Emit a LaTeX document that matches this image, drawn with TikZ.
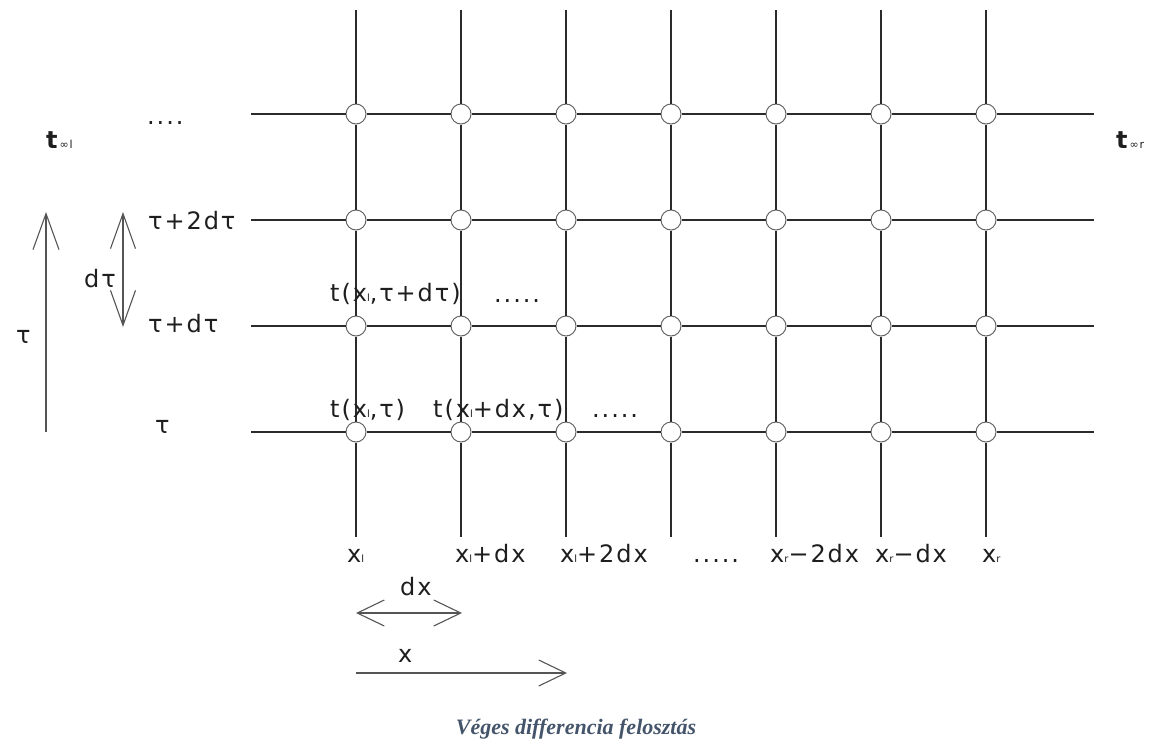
\documentclass[tikz,border=0pt]{standalone}
\usepackage{fontspec}
\setmainfont{DejaVu Sans}
\newfontfamily\diagfont[LetterSpace=8]{DejaVu Sans}
\newfontfamily\capfont{Liberation Serif}
\usetikzlibrary{arrows.meta}
\definecolor{linec}{HTML}{2B2B2B}
\definecolor{textc}{HTML}{1E1E1E}
\definecolor{arrc}{HTML}{555555}
\definecolor{knotc}{HTML}{666666}
\definecolor{capc}{HTML}{44546A}
\newcommand\sbs[1]{{\fontsize{10}{10}\selectfont #1}}
\newcommand\tsbs[1]{{\fontsize{11}{11}\selectfont #1}}
\begin{document}
\begin{tikzpicture}[x=1pt,y=-1pt,
  gridline/.style={draw=linec,line width=1.4pt},
  knot/.style={circle,draw=knotc,fill=white,line width=1pt,minimum size=20pt,inner sep=0pt},
  lbl/.style={text=textc,font=\diagfont\fontsize{24}{26}\selectfont,inner sep=0pt,anchor=base west},
  openarrow/.style={draw=arrc,line width=1.1pt},
]
\useasboundingbox (0,0) rectangle (1151,742);
% grid knots
\foreach \i in {0,...,6}{
  \foreach \j in {0,...,3}{
    \node[knot] (k\i\j) at ({356+105*\i},{114+106*\j}) {};
  }
  \coordinate (top\i) at ({356+105*\i},10);
  \coordinate (bot\i) at ({356+105*\i},537);
}
\foreach \j in {0,...,3}{
  \coordinate (lft\j) at (251,{114+106*\j});
  \coordinate (rgt\j) at (1094,{114+106*\j});
}
% grid lines
\foreach \i in {0,...,6}{
  \draw[gridline] (top\i) -- (k\i0) -- (k\i1) -- (k\i2) -- (k\i3) -- (bot\i);
}
\foreach \j in {0,...,3}{
  \draw[gridline] (lft\j) -- (k0\j) -- (k1\j) -- (k2\j) -- (k3\j) -- (k4\j) -- (k5\j) -- (k6\j) -- (rgt\j);
}
% arrows
\coordinate (tauS) at (46,432);
\coordinate (tauE) at (46,212);
\draw[openarrow,-{Straight Barb[length=36pt,width=26pt]}] (tauS) -- (tauE);
\coordinate (dtA) at (123,212);
\coordinate (dtB) at (123,327);
\draw[openarrow,{Straight Barb[length=35pt,width=25pt]}-{Straight Barb[length=35pt,width=25pt]}] (dtA) -- (dtB);
\coordinate (dxA) at (356,613);
\coordinate (dxB) at (462,613);
\draw[openarrow,{Straight Barb[length=27pt,width=26pt]}-{Straight Barb[length=27pt,width=26pt]}] (dxA) -- (dxB);
\coordinate (xA) at (356,673);
\coordinate (xB) at (567,673);
\draw[openarrow,-{Straight Barb[length=27pt,width=26pt]}] (xA) -- (xB);
% left labels
\node[lbl] (tinfl) at (46,148) {\textbf{t}\tsbs{∞l}};
\node[lbl] (dotsTop) at (147,124) {....};
\node[lbl] (r2) at (148,229) {τ+2dτ};
\node[lbl] (r1) at (148,332) {τ+dτ};
\node[lbl] (r0) at (155,433) {τ};
\node[lbl] (dtau) at (84,287) {dτ};
\node[lbl] (tau) at (16,343) {τ};
\node[lbl] (tinfr) at (1116,148) {\textbf{t}\tsbs{∞r}};
% inner labels
\node[lbl] (f1) at (330,301) {t(x\sbs{l},τ+dτ)};
\node[lbl] (f1d) at (494,302) {.....};
\node[lbl] (f2) at (330,417) {t(x\sbs{l},τ)};
\node[lbl] (f3) at (433,417) {t(x\sbs{l}+dx,τ)};
\node[lbl] (f3d) at (592,417) {.....};
% bottom labels
\node[lbl] (b0) at (347,562) {x\sbs{l}};
\node[lbl] (b1) at (455,562) {x\sbs{l}+dx};
\node[lbl] (b2) at (560,562) {x\sbs{l}+2dx};
\node[lbl] (b3) at (693,562) {.....};
\node[lbl] (b4) at (770,562) {x\sbs{r}−2dx};
\node[lbl] (b5) at (875,562) {x\sbs{r}−dx};
\node[lbl] (b6) at (982,562) {x\sbs{r}};
\node[lbl] (dxl) at (400,595) {dx};
\node[lbl] (xl) at (398,662) {x};
% caption
\node[font=\capfont\bfseries\itshape\fontsize{22}{24}\selectfont,text=capc,anchor=base,inner sep=0pt] (cap) at (576,734) {Véges differencia felosztás};
\end{tikzpicture}
\end{document}
